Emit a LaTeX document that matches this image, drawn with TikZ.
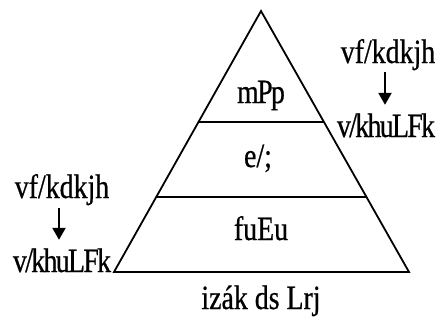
\documentclass[tikz,border=0pt]{standalone}
\usepackage{fontspec}
\setmainfont{Liberation Serif}[FakeStretch=0.82,FakeBold=0.6]
\newfontfamily\tightfont{Liberation Serif}[FakeStretch=0.82,FakeBold=0.6,LetterSpace=-5]
\usetikzlibrary{arrows.meta,calc}

\begin{document}
\begin{tikzpicture}[x=1pt,y=-1pt,
  lbl/.style={inner sep=0pt,anchor=base,font=\fontsize{34}{34}\selectfont,text height=24pt,text depth=8pt},
  tight/.style={lbl,font=\tightfont\fontsize{34}{34}\selectfont},
  arr/.style={-{Triangle[length=12pt,width=13pt]},line width=2.2pt}]
  \useasboundingbox (0,0) rectangle (439,325);
  % pyramid
  \coordinate (top) at (261,11);
  \coordinate (bl) at (114,272);
  \coordinate (br) at (409,272);
  \draw[line width=1.8pt] (top) -- (br) -- (bl) -- cycle;
  \draw[line width=2.6pt] ($(top)!0.425!(bl)$) -- ($(top)!0.425!(br)$);
  \draw[line width=2.6pt] ($(top)!0.712!(bl)$) -- ($(top)!0.712!(br)$);
  % levels
  \node[tight] (hi) at (261,103) {mPp};
  \node[lbl] (mid) at (258,167) {e/;};
  \node[lbl] (lo) at (261,240) {fuEu};
  \node[lbl] (title) at (261,309) {izák ds Lrj};
  % side labels
  \node[lbl] (r1) at (388,63) {vf/kdkjh};
  \node[tight] (r2) at (386,137) {v/khuLFk};
  \node[lbl] (l1) at (62,198) {vf/kdkjh};
  \node[tight] (l2) at (62,272) {v/khuLFk};
  \draw[arr,shorten <=1pt,shorten >=8pt] (r1.south -| 385,0) -- (r2.north -| 385,0);
  \draw[arr,shorten <=2pt,shorten >=8pt] (l1.south -| 59,0) -- (l2.north -| 59,0);
\end{tikzpicture}
\end{document}
